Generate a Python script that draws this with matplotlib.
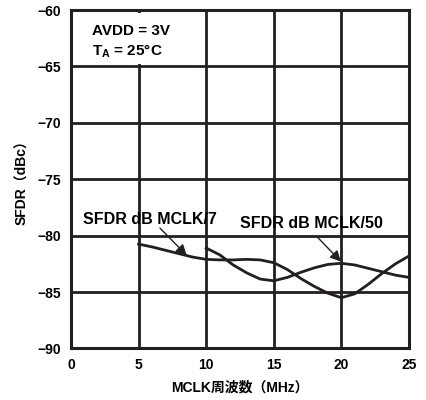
import matplotlib
matplotlib.use("Agg")
import matplotlib.pyplot as plt
from matplotlib.patches import Rectangle

plt.rcParams['font.family'] = ['Liberation Sans', 'Noto Sans CJK JP', 'DejaVu Sans']
plt.rcParams['font.weight'] = 'bold'
plt.rcParams['axes.labelweight'] = 'bold'
plt.rcParams['axes.unicode_minus'] = True

# SFDR vs MCLK
mclk7_x = [5, 6, 7, 8, 9, 10, 11, 12, 13, 14, 15, 16, 17, 18, 19, 20, 21, 22, 23, 24, 25]
mclk7_y = [-80.75, -81.0, -81.3, -81.6, -81.9, -82.1, -82.15, -82.15, -82.1, -82.15, -82.4,
           -83.0, -83.8, -84.5, -85.1, -85.5, -85.15, -84.3, -83.35, -82.5, -81.8]

mclk50_x = [10, 11, 12, 13, 14, 15, 16, 17, 18, 19, 20, 21, 22, 23, 24, 25]
mclk50_y = [-81.1, -81.7, -82.6, -83.3, -83.85, -84.0, -83.7, -83.25, -82.85, -82.55,
            -82.45, -82.6, -82.9, -83.2, -83.5, -83.7]

xticks = [0, 5, 10, 15, 20, 25]
yticks = [-90, -85, -80, -75, -70, -65, -60]

fig = plt.figure(figsize=(4.27, 4.0), dpi=100)
ax = fig.add_axes([0.1663, 0.1288, 0.7915, 0.8462])

ax.set_xlim(0, 25)
ax.set_ylim(-90, -60)
ax.set_xticks(xticks)
ax.set_yticks(yticks)
ax.tick_params(length=0, labelsize=10, pad=7)
ax.grid(True, color='#231f20', linewidth=2.0)
ax.set_axisbelow(True)
for sp in ax.spines.values():
    sp.set_linewidth(2.2)
    sp.set_color('#231f20')

# white block behind the conditions text hides the gridline there
ax.add_patch(Rectangle((0.3, -64.75), 9.3, 4.45, facecolor='white', edgecolor='none', zorder=1.5))

ax.plot(mclk7_x, mclk7_y, color='#231f20', linewidth=2.0, zorder=3)
ax.plot(mclk50_x, mclk50_y, color='#231f20', linewidth=2.0, zorder=3)

ax.text(1.55, -61.84, "AVDD = 3V", fontsize=11, va='center', ha='left', zorder=4)
ax.text(1.55, -63.7, r"$\mathregular{T_A}$ = 25°C", fontsize=11, va='center', ha='left', zorder=4)

ax.text(0.9, -79.0, "SFDR dB MCLK/7", fontsize=11.5, va='baseline', ha='left', zorder=4)
ax.text(12.5, -79.33, "SFDR dB MCLK/50", fontsize=11.5, va='baseline', ha='left', zorder=4)

arrow = dict(arrowstyle='-|>', color='#231f20', lw=1.0, mutation_scale=16,
             shrinkA=0, shrinkB=0)
ax.annotate("", xy=(8.56, -81.75), xytext=(6.58, -79.33), arrowprops=arrow, zorder=4)
ax.annotate("", xy=(19.97, -82.3), xytext=(18.17, -80.06), arrowprops=arrow, zorder=4)

ax.set_xlabel("MCLK周波数（MHz）", fontsize=10, labelpad=6)
ax.set_ylabel("SFDR（dBc）", fontsize=10, labelpad=6)

fig.savefig("out.png", dpi=100)
